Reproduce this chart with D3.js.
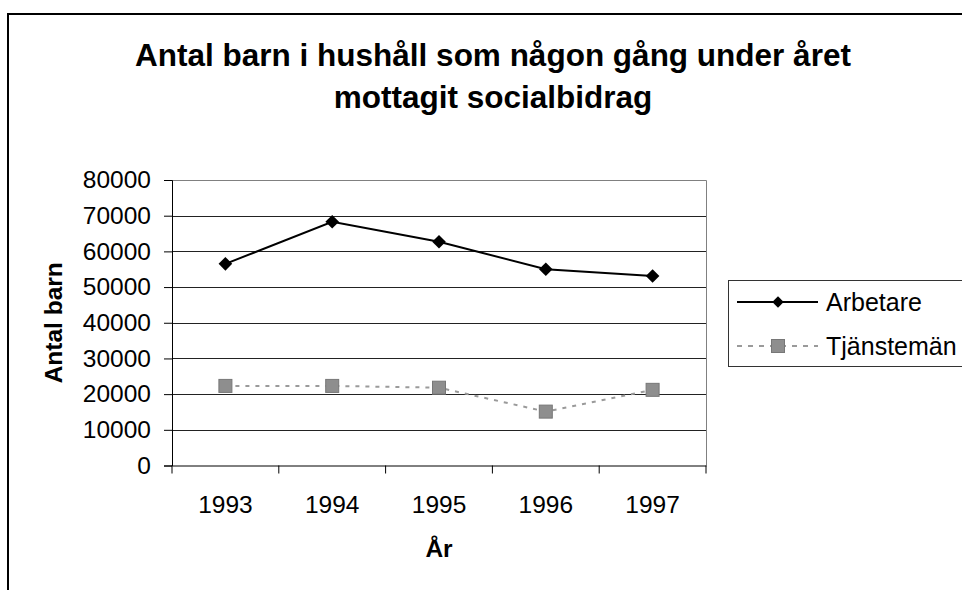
<!DOCTYPE html>
<html><head><meta charset="utf-8">
<script src="https://cdn.jsdelivr.net/npm/d3@7"></script>
<style>body{margin:0;background:#fff;}svg{display:block;font-family:"Liberation Sans",Arial,sans-serif;}</style>
</head><body><svg id="c" width="962" height="590"></svg>
<script>
const categories = ["1993","1994","1995","1996","1997"];
const arbetare = [56500, 68300, 62700, 55000, 53100];
const tjanstemen = [22300, 22300, 21800, 15100, 21200];
const yTicks = [0,10000,20000,30000,40000,50000,60000,70000,80000];
const seriesNames = ["Arbetare","Tjänstemän"];

const svg = d3.select("#c");
svg.append("rect").attr("x",8).attr("y",14).attr("width",1000).attr("height",600)
  .attr("fill","#fff").attr("stroke","#000").attr("stroke-width",2);

const L=172,R=706,T=180,B=465.5;
const x = d3.scaleBand().domain(categories).range([L,R]);
const y = d3.scaleLinear().domain([0,80000]).range([B,T]);
const FS = 24.5;

// gridlines
svg.append("g").selectAll("line").data(yTicks.filter(d=>d>0)).join("line")
  .attr("x1",L).attr("x2",R).attr("y1",d=>Math.round(y(d))+0.5).attr("y2",d=>Math.round(y(d))+0.5)
  .attr("stroke","#222").attr("stroke-width",1);
// plot border top/right
svg.append("path").attr("d",`M${L},${T+0.5}H${R+0.5}V${B}`).attr("fill","none")
  .attr("stroke","#808080").attr("stroke-width",1);

const yAxis = svg.append("g").attr("transform",`translate(${L},0)`)
  .call(d3.axisLeft(y).tickValues(yTicks).tickSize(8).tickPadding(13).tickFormat(d3.format("d")));
yAxis.select(".domain").attr("stroke","#000");
yAxis.selectAll("line").attr("stroke","#000");
yAxis.selectAll("text").attr("font-size",FS).attr("fill","#000").style("font-family","'Liberation Sans',Arial");

const xAxis = svg.append("g").attr("transform",`translate(0,${B})`)
  .call(d3.axisBottom(x).tickSize(0).tickPadding(0));
xAxis.select(".domain").attr("stroke","#000");
xAxis.selectAll("text").attr("font-size",FS).attr("fill","#000").attr("dy",null).attr("y",47)
  .style("font-family","'Liberation Sans',Arial");
// category boundary ticks
const bounds = categories.map(c=>x(c)).concat([R]);
svg.append("g").selectAll("line").data(bounds).join("line")
  .attr("x1",d=>d).attr("x2",d=>d).attr("y1",B).attr("y2",B+8).attr("stroke","#000");

const cx = d=>x(d)+x.bandwidth()/2;
// Tjänstemän
svg.append("path").datum(tjanstemen)
  .attr("d",d3.line().x((d,i)=>cx(categories[i])).y(d=>y(d)))
  .attr("fill","none").attr("stroke","#9a9a9a").attr("stroke-width",2).attr("stroke-dasharray","4,6");
svg.append("g").selectAll("rect").data(tjanstemen).join("rect")
  .attr("x",(d,i)=>cx(categories[i])-6.5).attr("y",d=>y(d)-6.5).attr("width",13).attr("height",13)
  .attr("fill","#8e8e8e").attr("stroke","#777").attr("stroke-width",1);
// Arbetare
svg.append("path").datum(arbetare)
  .attr("d",d3.line().x((d,i)=>cx(categories[i])).y(d=>y(d)))
  .attr("fill","none").attr("stroke","#000").attr("stroke-width",2);
svg.append("g").selectAll("path").data(arbetare).join("path")
  .attr("transform",(d,i)=>`translate(${cx(categories[i])},${y(d)})`)
  .attr("d","M0,-6.8L6.8,0L0,6.8L-6.8,0Z").attr("fill","#000");

// Title
const title = svg.append("text").attr("text-anchor","middle")
  .attr("font-size",31.5).attr("font-weight","bold");
title.append("tspan").attr("x",493).attr("y",66).text("Antal barn i hushåll som någon gång under året");
title.append("tspan").attr("x",493).attr("y",108).text("mottagit socialbidrag");

svg.append("text").attr("x",(L+R)/2).attr("y",557).attr("text-anchor","middle")
  .attr("font-size",FS).attr("font-weight","bold").text("År");
svg.append("text").attr("transform",`translate(62,${(T+B)/2}) rotate(-90)`).attr("text-anchor","middle")
  .attr("font-size",FS).attr("font-weight","bold").text("Antal barn");

// Legend
const lg = svg.append("g");
lg.append("rect").attr("x",728.5).attr("y",280.5).attr("width",300).attr("height",86)
  .attr("fill","#fff").attr("stroke","#333").attr("stroke-width",1);
const ly=[302,346];
lg.append("line").attr("x1",737).attr("x2",818).attr("y1",ly[0]).attr("y2",ly[0]).attr("stroke","#000").attr("stroke-width",2);
lg.append("path").attr("transform",`translate(778,${ly[0]})`).attr("d","M0,-5.7L5.7,0L0,5.7L-5.7,0Z").attr("fill","#000");
lg.append("line").attr("x1",737).attr("x2",818).attr("y1",ly[1]).attr("y2",ly[1]).attr("stroke","#9a9a9a").attr("stroke-width",2).attr("stroke-dasharray","5,6");
lg.append("rect").attr("x",771.5).attr("y",ly[1]-6.5).attr("width",13).attr("height",13).attr("fill","#8e8e8e").attr("stroke","#777");
lg.selectAll("text.l").data(seriesNames).join("text").attr("class","l")
  .attr("x",826).attr("y",(d,i)=>ly[i]).attr("dy","0.35em").attr("font-size",25).text(d=>d);
</script></body></html>
